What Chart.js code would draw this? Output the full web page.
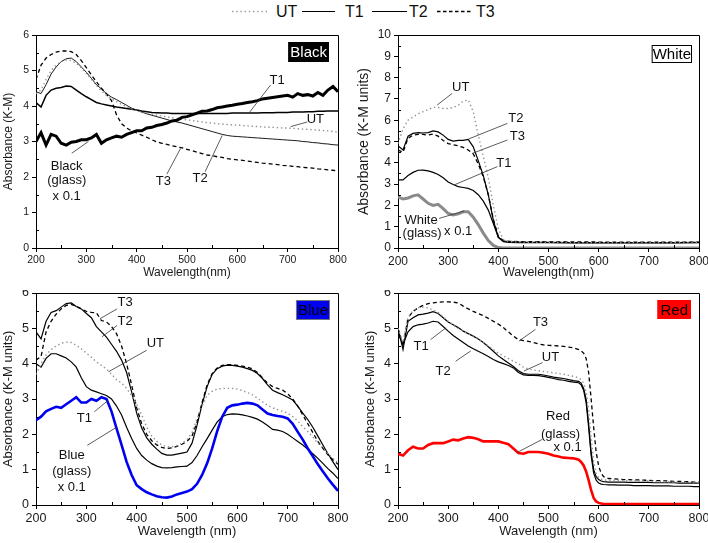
<!DOCTYPE html>
<html>
<head>
<meta charset="utf-8">
<script src="https://cdn.jsdelivr.net/npm/chart.js@4.4.0/dist/chart.umd.min.js"></script>
<style>
  html, body { margin: 0; padding: 0; background: #fff; }
  #wrap { position: relative; width: 708px; height: 543px; overflow: hidden; font-family: 'Liberation Sans', Arial, sans-serif; }
  #wrap canvas, #legend { position: absolute; }
</style>
</head>
<body>
<div id="wrap">
  <svg id="legend" width="708" height="26" style="left:0;top:0" font-family="'Liberation Sans', Arial, sans-serif" font-size="16" fill="#111">
    <line x1="232" y1="11.5" x2="268" y2="11.5" stroke="#9a9a9a" stroke-width="1.4" stroke-dasharray="1.4 2.8"/>
    <text x="276" y="17">UT</text>
    <line x1="302" y1="11.5" x2="335" y2="11.5" stroke="#000" stroke-width="1.2"/>
    <text x="345" y="17">T1</text>
    <line x1="372" y1="11.5" x2="407" y2="11.5" stroke="#000" stroke-width="1.2"/>
    <text x="409" y="17">T2</text>
    <line x1="437" y1="11.5" x2="473" y2="11.5" stroke="#000" stroke-width="1.3" stroke-dasharray="3.5 2.5"/>
    <text x="476" y="17">T3</text>
  </svg>
  <canvas id="cBlack" width="354" height="290" style="left:0;top:0"></canvas>
  <canvas id="cWhite" width="354" height="290" style="left:354px;top:0"></canvas>
  <canvas id="cBlue" width="354" height="253" style="left:0;top:290px"></canvas>
  <canvas id="cRed" width="354" height="253" style="left:354px;top:290px"></canvas>
</div>
<script>
// wavelength grids (nm)
const wl10 = [200, 210, 220, 230, 240, 250, 260, 270, 280, 290,
  300, 310, 320, 330, 340, 350, 360, 370, 380, 390,
  400, 410, 420, 430, 440, 450, 460, 470, 480, 490,
  500, 510, 520, 530, 540, 550, 560, 570, 580, 590,
  600, 610, 620, 630, 640, 650, 660, 670, 680, 690,
  700, 710, 720, 730, 740, 750, 760, 770, 780, 790,
  800];
const wlWhite = [200, 210, 220, 230, 240, 250, 260, 270, 280, 290,
  300, 310, 320, 330, 340, 350, 360, 370, 380, 390,
  400, 410, 420, 440, 460, 480, 500, 550, 600, 650, 700, 750, 800];
const wlRed = [200, 210, 220, 230, 240, 250, 260, 270, 280, 290,
  300, 310, 320, 330, 340, 350, 360, 370, 380, 390,
  400, 410, 420, 430, 440, 450, 460, 470, 480, 490,
  500, 510, 520, 530, 540, 550, 560,
  565, 570, 575, 580, 585, 590, 595, 600, 605, 610,
  620, 630, 640, 650, 660, 670, 680, 690, 700, 710, 720, 730, 740, 750, 760, 770, 780, 790, 800];

// Black panel
const blackUT = [4.35, 4.45, 4.75, 5.0, 5.15, 5.25, 5.3, 5.28, 5.2, 5.08,
  4.92, 4.75, 4.58, 4.42, 4.3, 4.2, 4.12, 4.05, 3.98, 3.92,
  3.87, 3.83, 3.8, 3.77, 3.74, 3.72, 3.69, 3.67, 3.65, 3.63,
  3.61, 3.59, 3.57, 3.55, 3.53, 3.52, 3.5, 3.49, 3.48, 3.47,
  3.46, 3.45, 3.44, 3.43, 3.42, 3.41, 3.4, 3.4, 3.39, 3.38,
  3.38, 3.37, 3.36, 3.35, 3.34, 3.33, 3.32, 3.31, 3.3, 3.28,
  3.26];
const blackT1 = [4.1, 3.97, 4.3, 4.45, 4.5, 4.52, 4.56, 4.55, 4.45, 4.35,
  4.26, 4.18, 4.1, 4.06, 4.03, 4.0, 3.97, 3.95, 3.93, 3.91,
  3.89, 3.86, 3.84, 3.82, 3.81, 3.8, 3.8, 3.79, 3.79, 3.79,
  3.79, 3.79, 3.79, 3.79, 3.79, 3.79, 3.79, 3.79, 3.79, 3.8,
  3.8, 3.8, 3.8, 3.8, 3.8, 3.81, 3.81, 3.81, 3.82, 3.82,
  3.82, 3.83, 3.83, 3.83, 3.84, 3.84, 3.85, 3.85, 3.86, 3.86,
  3.86];
const blackT2 = [4.4, 4.35, 4.6, 4.9, 5.1, 5.25, 5.33, 5.35, 5.25, 5.1,
  4.95, 4.78, 4.6, 4.48, 4.35, 4.25, 4.18, 4.1, 4.02, 3.94,
  3.88, 3.83, 3.78, 3.74, 3.7, 3.66, 3.62, 3.58, 3.55, 3.52,
  3.48, 3.44, 3.4, 3.36, 3.32, 3.28, 3.24, 3.2, 3.17, 3.15,
  3.14, 3.13, 3.12, 3.11, 3.1, 3.09, 3.08, 3.07, 3.06, 3.05,
  3.04, 3.03, 3.02, 3.0, 2.99, 2.97, 2.96, 2.94, 2.93, 2.91,
  2.9];
const blackT3 = [4.75, 5.15, 5.35, 5.45, 5.52, 5.55, 5.55, 5.53, 5.45, 5.28,
  5.08, 4.88, 4.68, 4.5, 4.34, 4.15, 3.75, 3.5, 3.38, 3.3,
  3.24, 3.18, 3.12, 3.05, 2.99, 2.95, 2.92, 2.88, 2.85, 2.82,
  2.78, 2.74, 2.7, 2.66, 2.62, 2.6, 2.57, 2.55, 2.52, 2.5,
  2.48, 2.47, 2.45, 2.43, 2.41, 2.39, 2.38, 2.36, 2.35, 2.33,
  2.32, 2.3, 2.29, 2.27, 2.26, 2.25, 2.23, 2.22, 2.2, 2.19,
  2.17];
const blackGlass = [3.0, 3.25, 2.9, 3.2, 3.15, 2.95, 2.9, 2.98, 3.0, 3.05,
  3.05, 3.1, 3.2, 2.95, 3.05, 3.1, 3.15, 3.12, 3.2, 3.25,
  3.3, 3.3, 3.38, 3.4, 3.45, 3.48, 3.52, 3.58, 3.6, 3.68,
  3.7, 3.75, 3.8, 3.85, 3.86, 3.9, 3.95, 3.97, 4.0, 4.02,
  4.05, 4.07, 4.1, 4.12, 4.15, 4.2, 4.22, 4.24, 4.26, 4.28,
  4.3, 4.25, 4.35, 4.3, 4.32, 4.28, 4.38, 4.3, 4.45, 4.55,
  4.4];

// White panel
const whiteUT = [4.9, 5.6, 6.0, 6.15, 6.3, 6.4, 6.5, 6.6, 6.6, 6.55,
  6.55, 6.6, 6.7, 6.9, 6.95, 6.4, 5.3, 4.3, 3.3, 2.0,
  0.9, 0.4, 0.3, 0.28, 0.27, 0.27, 0.26, 0.25, 0.25, 0.25, 0.25, 0.25, 0.25];
const whiteT1 = [3.2, 3.2, 3.4, 3.55, 3.65, 3.66, 3.62, 3.55, 3.45, 3.3,
  3.1, 2.98, 2.88, 2.84, 2.8, 2.7, 2.5, 2.2, 1.78, 1.15,
  0.5, 0.3, 0.26, 0.25, 0.25, 0.25, 0.25, 0.24, 0.24, 0.24, 0.24, 0.24, 0.25];
const whiteT2 = [4.8, 4.6, 5.25, 5.38, 5.42, 5.4, 5.42, 5.5, 5.45, 5.3,
  5.1, 5.02, 5.05, 5.05, 5.1, 4.75, 4.1, 3.4, 2.5, 1.3,
  0.5, 0.33, 0.3, 0.28, 0.27, 0.27, 0.26, 0.25, 0.25, 0.25, 0.25, 0.25, 0.26];
const whiteT3 = [4.6, 4.5, 5.15, 5.3, 5.33, 5.33, 5.3, 5.35, 5.25, 5.05,
  4.9, 4.85, 4.8, 4.72, 4.6, 4.42, 3.95, 3.35, 2.5, 1.35,
  0.55, 0.35, 0.32, 0.3, 0.3, 0.3, 0.29, 0.29, 0.28, 0.28, 0.27, 0.27, 0.27];
const whiteGlass = [2.4, 2.3, 2.35, 2.45, 2.5, 2.3, 2.1, 2.0, 2.05, 1.85,
  1.62, 1.55, 1.6, 1.7, 1.7, 1.45, 1.1, 0.7, 0.35, 0.12,
  0.02, 0, 0, 0, 0, 0, 0, 0, 0, 0, 0, 0, 0];

// Blue panel
const blueUT = [3.7, 4.0, 4.25, 4.4, 4.5, 4.58, 4.61, 4.6, 4.52, 4.42,
  4.3, 4.18, 4.05, 3.95, 3.85, 3.7, 3.55, 3.45, 3.3, 3.1,
  2.85, 2.55, 2.2, 1.95, 1.8, 1.7, 1.65, 1.65, 1.68, 1.75,
  1.85, 2.05, 2.45, 2.8, 3.1, 3.22, 3.28, 3.3, 3.3, 3.3,
  3.28, 3.24, 3.18, 3.12, 3.02, 2.92, 2.82, 2.75, 2.7, 2.65,
  2.6, 2.5, 2.38, 2.22, 2.08, 1.92, 1.75, 1.6, 1.45, 1.32,
  1.2];
const blueT1 = [4.0, 3.9, 4.15, 4.28, 4.28, 4.22, 4.16, 4.05, 3.9, 3.6,
  3.35, 3.25, 3.2, 3.15, 3.1, 3.0, 2.8, 2.55, 2.2, 1.88,
  1.6, 1.4, 1.27, 1.17, 1.1, 1.06, 1.05, 1.06, 1.08, 1.09,
  1.1, 1.2, 1.4, 1.65, 1.88, 2.12, 2.35, 2.5, 2.56, 2.58,
  2.57, 2.55, 2.52, 2.48, 2.43, 2.35, 2.25, 2.14, 2.12, 2.08,
  2.0, 1.9, 1.8, 1.7, 1.58, 1.45, 1.32, 1.18, 1.03, 0.9,
  0.75];
const blueT2 = [4.9, 4.7, 5.2, 5.45, 5.5, 5.6, 5.7, 5.72, 5.62, 5.55,
  5.42, 5.3, 5.05, 4.9, 4.75, 4.55, 4.35, 4.1, 3.75, 3.2,
  2.6, 2.18, 1.9, 1.72, 1.58, 1.46, 1.41, 1.41, 1.44, 1.47,
  1.5, 1.75, 2.26, 2.85, 3.35, 3.7, 3.86, 3.93, 3.96, 3.95,
  3.93, 3.9, 3.86, 3.81, 3.72, 3.58, 3.4, 3.25, 3.18, 3.12,
  3.05, 2.97, 2.8, 2.6, 2.42, 2.2, 1.95, 1.7, 1.45, 1.22,
  1.0];
const blueT3 = [4.1, 4.2, 4.9, 5.2, 5.4, 5.55, 5.65, 5.68, 5.62, 5.55,
  5.48, 5.45, 5.44, 5.22, 5.18, 5.05, 4.85, 4.5, 4.0, 3.4,
  2.75, 2.3, 2.0, 1.82, 1.7, 1.63, 1.6, 1.62, 1.66, 1.72,
  1.8, 1.95, 2.35, 2.9, 3.4, 3.72, 3.88, 3.95, 3.97, 3.97,
  3.95, 3.93, 3.9, 3.85, 3.75, 3.6, 3.45, 3.35, 3.3, 3.25,
  3.15, 3.0, 2.8, 2.55, 2.3, 2.05, 1.8, 1.6, 1.42, 1.28,
  1.15];
const blueGlass = [2.4, 2.5, 2.65, 2.72, 2.78, 2.75, 2.85, 2.95, 3.05, 2.9,
  2.9, 3.0, 2.95, 3.05, 3.0, 2.65, 2.17, 1.7, 1.22, 0.85,
  0.56, 0.45, 0.36, 0.3, 0.25, 0.22, 0.21, 0.24, 0.3, 0.34,
  0.38, 0.45, 0.6, 0.85, 1.18, 1.6, 2.09, 2.5, 2.75, 2.82,
  2.84, 2.87, 2.89, 2.87, 2.82, 2.7, 2.59, 2.55, 2.52, 2.5,
  2.45, 2.3, 2.07, 1.85, 1.6, 1.38, 1.15, 0.95, 0.75, 0.57,
  0.4];

// Red panel
const redUT = [5.0, 4.6, 5.3, 5.5, 5.58, 5.6, 5.58, 5.52, 5.45, 5.32,
  5.2, 5.1, 5.0, 4.92, 4.85, 4.77, 4.7, 4.6, 4.5, 4.4,
  4.3, 4.22, 4.15, 4.07, 4.0, 3.9, 3.85, 3.82, 3.8, 3.78,
  3.76, 3.74, 3.72, 3.7, 3.67, 3.64, 3.6,
  3.55, 3.45, 3.2, 2.7, 1.9, 1.25, 0.9, 0.78, 0.73, 0.71,
  0.7, 0.7, 0.7, 0.69, 0.69, 0.69, 0.68, 0.68, 0.68, 0.67, 0.67, 0.66, 0.66, 0.65, 0.65, 0.64, 0.64, 0.63, 0.63];
const redT1 = [5.0, 4.4, 5.2, 5.3, 5.38, 5.4, 5.43, 5.47, 5.42, 5.3,
  5.18, 5.1, 5.02, 4.92, 4.85, 4.78, 4.7, 4.6, 4.48, 4.35,
  4.22, 4.12, 4.02, 3.92, 3.8, 3.72, 3.7, 3.7, 3.7, 3.68,
  3.65, 3.62, 3.6, 3.58, 3.55, 3.52, 3.5,
  3.45, 3.3, 3.0, 2.3, 1.5, 1.0, 0.8, 0.72, 0.68, 0.66,
  0.65, 0.65, 0.65, 0.65, 0.64, 0.64, 0.64, 0.64, 0.64, 0.63, 0.63, 0.63, 0.63, 0.63, 0.62, 0.62, 0.62, 0.62, 0.62];
const redT2 = [4.85, 4.55, 4.9, 5.05, 5.1, 5.12, 5.15, 5.2, 5.18, 5.05,
  4.92, 4.8, 4.7, 4.6, 4.5, 4.42, 4.35, 4.28, 4.2, 4.12,
  4.05, 4.0, 3.95, 3.88, 3.75, 3.68, 3.67, 3.67, 3.66, 3.64,
  3.61, 3.58, 3.55, 3.53, 3.5, 3.48, 3.46,
  3.4, 3.25, 2.9, 2.2, 1.4, 0.9, 0.7, 0.62, 0.59, 0.58,
  0.57, 0.57, 0.56, 0.56, 0.56, 0.55, 0.55, 0.55, 0.55, 0.54, 0.54, 0.54, 0.54, 0.53, 0.53, 0.53, 0.53, 0.52, 0.52];
const redT3 = [5.0, 4.5, 5.3, 5.48, 5.58, 5.65, 5.7, 5.72, 5.74, 5.75,
  5.75, 5.74, 5.72, 5.63, 5.55, 5.48, 5.42, 5.36, 5.28, 5.2,
  5.12, 5.02, 4.9, 4.78, 4.68, 4.65, 4.63, 4.6, 4.56, 4.53,
  4.52, 4.51, 4.5, 4.49, 4.47, 4.45, 4.4,
  4.36, 4.3, 4.15, 3.75, 3.0, 2.2, 1.5, 1.1, 0.9, 0.8,
  0.75, 0.74, 0.73, 0.72, 0.72, 0.71, 0.71, 0.7, 0.7, 0.69, 0.69, 0.68, 0.68, 0.67, 0.67, 0.66, 0.66, 0.65, 0.65];
const redGlass = [1.45, 1.4, 1.55, 1.65, 1.6, 1.6, 1.7, 1.75, 1.75, 1.75,
  1.8, 1.85, 1.83, 1.88, 1.92, 1.9, 1.86, 1.8, 1.8, 1.8,
  1.8, 1.76, 1.72, 1.6, 1.47, 1.45, 1.5, 1.5, 1.5, 1.48,
  1.45, 1.4, 1.37, 1.34, 1.33, 1.32, 1.28,
  1.22, 1.12, 0.95, 0.7, 0.42, 0.2, 0.1, 0.06, 0.04, 0.03,
  0.03, 0.03, 0.03, 0.03, 0.03, 0.03, 0.03, 0.03, 0.03, 0.03, 0.03, 0.03, 0.03, 0.03, 0.03, 0.03, 0.03, 0.03, 0.03];

const FONT = "'Liberation Sans', Arial, sans-serif";
Chart.defaults.font.family = FONT;

// line looks shared by the four panels
const dotted = { borderColor: '#929292', borderWidth: 1.4, borderDash: [1.4, 2.8] };
const solid = { borderColor: '#000', borderWidth: 1.2 };
const dashed = { borderColor: '#000', borderWidth: 1.3, borderDash: [4, 3] };

function series(wl, ys, style) {
  return Object.assign({
    data: wl.map((w, i) => ({ x: w, y: ys[i] })),
    pointRadius: 0, tension: 0, fill: false, borderCapStyle: 'butt'
  }, style);
}

// frame, minor ticks, sample tag and leader-line labels
function makeDecor(cfg) {
  return {
    id: 'decor',
    afterDraw(chart) {
      const { ctx, chartArea: a, scales: { x, y } } = chart;
      ctx.save();
      ctx.strokeStyle = '#000';
      ctx.lineWidth = 1;
      ctx.beginPath();
      ctx.moveTo(a.left + 0.5, a.top + 0.5);
      ctx.lineTo(a.right + 0.5, a.top + 0.5);
      ctx.lineTo(a.right + 0.5, a.bottom + 0.5);
      ctx.stroke();

      ctx.beginPath();
      for (let v = 250; v < 800; v += 100) {
        const px = Math.round(x.getPixelForValue(v)) + 0.5;
        ctx.moveTo(px, a.bottom);
        ctx.lineTo(px, a.bottom - 3);
      }
      for (let v = 0.5; v < cfg.yMax; v += 1) {
        const py = Math.round(y.getPixelForValue(v)) + 0.5;
        ctx.moveTo(a.left, py);
        ctx.lineTo(a.left + 3, py);
      }
      ctx.stroke();

      // sample tag in the corner
      const t = cfg.tag;
      ctx.font = '15px ' + FONT;
      const w = ctx.measureText(t.text).width + t.pad * 2;
      const x0 = a.right - t.right - w, y0 = a.top + t.top;
      ctx.fillStyle = t.fill;
      ctx.fillRect(x0, y0, w, t.h);
      ctx.strokeStyle = t.border;
      ctx.strokeRect(x0 + 0.5, y0 + 0.5, w - 1, t.h - 1);
      ctx.fillStyle = t.color;
      ctx.textAlign = 'center';
      ctx.textBaseline = 'middle';
      ctx.fillText(t.text, x0 + w / 2, y0 + t.h / 2 + 1);

      // labels with leader lines
      ctx.font = '13px ' + FONT;
      ctx.fillStyle = '#111';
      ctx.strokeStyle = '#333';
      ctx.lineWidth = 0.8;
      cfg.notes.forEach(n => {
        n.lines.forEach(l => ctx.fillText(l[0], x.getPixelForValue(l[1]), y.getPixelForValue(l[2])));
        ctx.beginPath();
        ctx.moveTo(x.getPixelForValue(n.from[0]), y.getPixelForValue(n.from[1]));
        ctx.lineTo(x.getPixelForValue(n.to[0]), y.getPixelForValue(n.to[1]));
        ctx.stroke();
      });
      ctx.restore();
    }
  };
}

function makePanel(id, cfg) {
  return new Chart(document.getElementById(id), {
    type: 'line',
    data: { datasets: cfg.datasets },
    options: {
      responsive: false,
      animation: false,
      devicePixelRatio: 1,
      layout: { padding: cfg.padding },
      plugins: { legend: { display: false }, tooltip: { enabled: false } },
      scales: {
        x: {
          type: 'linear', min: 200, max: 800,
          afterFit: s => { s.height = cfg.xh; s.paddingLeft = 0; s.paddingRight = 0; },
          ticks: { stepSize: 100, font: { size: cfg.tick }, color: '#1a1a1a', padding: 2, maxRotation: 0, autoSkip: false },
          grid: { drawOnChartArea: false, tickLength: 4, color: '#000' },
          border: { color: '#000', width: 1 },
          title: { display: true, text: cfg.xTitle, font: { size: cfg.xTitleSize }, color: '#1a1a1a', padding: { top: 0, bottom: cfg.xTitlePad } }
        },
        y: {
          min: 0, max: cfg.yMax,
          afterFit: s => { s.width = cfg.yw; s.paddingTop = 0; s.paddingBottom = 0; },
          ticks: { stepSize: 1, font: { size: cfg.tick }, color: '#1a1a1a', padding: 3 },
          grid: { drawOnChartArea: false, tickLength: 4, color: '#000' },
          border: { color: '#000', width: 1 },
          title: { display: true, text: cfg.yTitle, font: { size: cfg.yTitleSize }, color: '#1a1a1a', padding: { top: cfg.yTitlePad, bottom: 0 } }
        }
      }
    },
    plugins: [makeDecor(cfg)]
  });
}

makePanel('cBlack', {
  yMax: 6, yw: 36, xh: 42, padding: { left: 0, right: 16, top: 35, bottom: 0 },
  tick: 10.5, xTitle: 'Wavelength(nm)', xTitleSize: 12, xTitlePad: 10,
  yTitle: 'Absorbance (K-M)', yTitleSize: 12, yTitlePad: 1,
  datasets: [
    series(wl10, blackGlass, { borderColor: '#000', borderWidth: 3 }),
    series(wl10, blackUT, dotted),
    series(wl10, blackT1, { borderColor: '#000', borderWidth: 1.5 }),
    series(wl10, blackT2, { borderColor: '#000', borderWidth: 0.9 }),
    series(wl10, blackT3, dashed)
  ],
  tag: { text: 'Black', fill: '#000', color: '#fff', border: '#000', right: 9, top: 7, h: 20, pad: 2 },
  notes: [
    { lines: [['T1', 679, 4.73]], from: [666, 4.59], to: [623, 3.8] },
    { lines: [['UT', 755, 3.62]], from: [739, 3.55], to: [706, 3.42] },
    { lines: [['T2', 526, 1.97]], from: [536, 2.15], to: [570, 3.17] },
    { lines: [['T3', 453, 1.87]], from: [460, 2.08], to: [487, 2.8] },
    { lines: [['Black', 261, 2.3], ['(glass)', 261, 1.9], ['x 0.1', 261, 1.45]], from: [271, 2.67], to: [304, 3.0] }
  ]
});

makePanel('cWhite', {
  yMax: 10, yw: 44, xh: 42, padding: { left: 0, right: 9, top: 35, bottom: 0 },
  tick: 12, xTitle: 'Wavelength(nm)', xTitleSize: 12.5, xTitlePad: 9.5,
  yTitle: 'Absorbance (K-M units)', yTitleSize: 14, yTitlePad: 1.5,
  datasets: [
    series(wlWhite, whiteGlass, { borderColor: '#8a8a8a', borderWidth: 3 }),
    series(wlWhite, whiteUT, dotted),
    series(wlWhite, whiteT1, solid),
    series(wlWhite, whiteT2, solid),
    series(wlWhite, whiteT3, dashed)
  ],
  tag: { text: 'White', fill: '#fff', color: '#000', border: '#000', right: 7, top: 10, h: 18, pad: 1 },
  notes: [
    { lines: [['UT', 325, 7.55]], from: [308, 7.26], to: [278, 6.71] },
    { lines: [['T2', 435, 6.09]], from: [418, 5.85], to: [341, 5.12] },
    { lines: [['T3', 438, 5.23]], from: [418, 5.07], to: [348, 4.44] },
    { lines: [['T1', 411, 3.97]], from: [398, 3.82], to: [312, 2.96] },
    { lines: [['White', 246, 1.31], ['(glass)', 248, 0.69], ['x 0.1', 320, 0.8]], from: [282, 1.39], to: [332, 1.74] }
  ]
});

makePanel('cBlue', {
  yMax: 6, yw: 36, xh: 38, padding: { left: 0, right: 16, top: 3, bottom: 0 },
  tick: 12.5, xTitle: 'Wavelength (nm)', xTitleSize: 13, xTitlePad: 4,
  yTitle: 'Absorbance (K-M units)', yTitleSize: 13, yTitlePad: 0.5,
  datasets: [
    series(wl10, blueGlass, { borderColor: '#0000f0', borderWidth: 2.6 }),
    series(wl10, blueUT, dotted),
    series(wl10, blueT1, solid),
    series(wl10, blueT2, solid),
    series(wl10, blueT3, dashed)
  ],
  tag: { text: 'Blue', fill: '#0000f0', color: '#000', border: '#777', right: 8, top: 7, h: 20, pad: 2 },
  notes: [
    { lines: [['T3', 377, 5.74]], from: [361, 5.55], to: [327, 5.27] },
    { lines: [['T2', 377, 5.2]], from: [361, 5.08], to: [331, 4.76] },
    { lines: [['UT', 437, 4.57]], from: [420, 4.38], to: [344, 3.77] },
    { lines: [['T1', 296, 2.45]], from: [316, 2.64], to: [344, 2.97] },
    { lines: [['Blue', 271, 1.41], ['(glass)', 271, 0.94], ['x 0.1', 271, 0.49]], from: [302, 1.69], to: [361, 2.21] }
  ]
});

makePanel('cRed', {
  yMax: 6, yw: 44, xh: 38, padding: { left: 0, right: 9, top: 3, bottom: 0 },
  tick: 12.5, xTitle: 'Wavelength (nm)', xTitleSize: 13, xTitlePad: 4,
  yTitle: 'Absorbance (K-M units)', yTitleSize: 13, yTitlePad: 9,
  datasets: [
    series(wlRed, redGlass, { borderColor: '#ff0000', borderWidth: 2.6 }),
    series(wlRed, redUT, dotted),
    series(wlRed, redT1, solid),
    series(wlRed, redT2, solid),
    series(wlRed, redT3, dashed)
  ],
  tag: { text: 'Red', fill: '#ff0000', color: '#000', border: '#ff0000', right: 8, top: 7, h: 19, pad: 3 },
  notes: [
    { lines: [['T3', 484, 5.16]], from: [474, 4.97], to: [441, 4.64] },
    { lines: [['T1', 246, 4.5]], from: [265, 4.68], to: [295, 5.01] },
    { lines: [['T2', 290, 3.79]], from: [315, 4.07], to: [345, 4.36] },
    { lines: [['UT', 504, 4.19]], from: [488, 4.03], to: [451, 3.79] },
    { lines: [['Red', 519, 2.5], ['(glass)', 524, 2.0], ['x 0.1', 538, 1.63]], from: [488, 1.86], to: [438, 1.49] }
  ]
});
</script>
</body>
</html>
